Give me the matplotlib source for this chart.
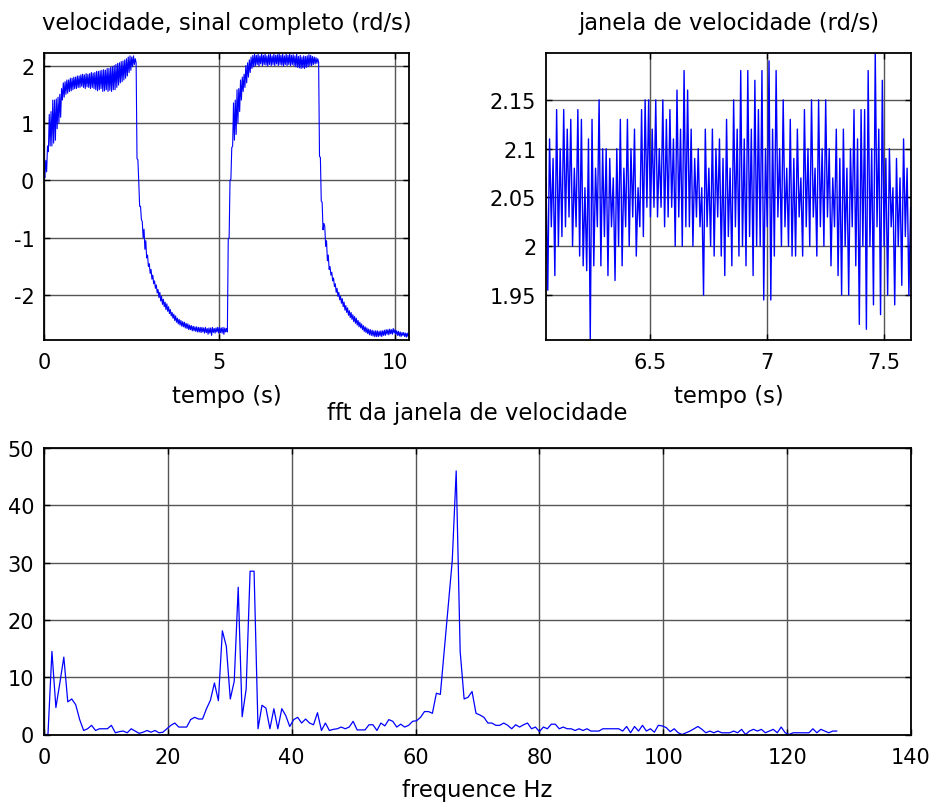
import numpy as np
import matplotlib
matplotlib.use("Agg")
import matplotlib.pyplot as plt

# ---------------- data ----------------
# full speed signal (rd/s): upper and lower swing of the noisy trace,
# upper at t = 0, 0.05, 0.10, ... ; lower half a step (0.025 s) later
sig_dt = 0.05
sig_upper = [
    0.10, 0.35, 0.60, 1.15, 1.20, 1.40, 1.40, 1.42, 1.45, 1.50,
    1.60, 1.70, 1.72, 1.75, 1.75, 1.78, 1.78, 1.80, 1.80, 1.82,
    1.82, 1.84, 1.85, 1.84, 1.86, 1.85, 1.86, 1.88, 1.87, 1.88,
    1.90, 1.90, 1.91, 1.92, 1.93, 1.92, 1.95, 1.95, 1.97, 1.98,
    2.00, 2.02, 2.04, 2.05, 2.07, 2.08, 2.10, 2.12, 2.15, 2.17,
    2.15, 2.17, 2.12, 0.38, -0.02, -0.45, -0.72, -0.85, -1.05, -1.30,
    -1.45, -1.55, -1.65, -1.75, -1.82, -1.90, -1.95, -2.02, -2.07, -2.12,
    -2.15, -2.20, -2.25, -2.30, -2.33, -2.36, -2.40, -2.42, -2.44, -2.46,
    -2.47, -2.49, -2.50, -2.52, -2.53, -2.54, -2.55, -2.55, -2.56, -2.56,
    -2.56, -2.57, -2.56, -2.58, -2.57, -2.57, -2.56, -2.58, -2.57, -2.56,
    -2.56, -2.57, -2.56, -2.57, -2.58, -1.01, 0.00, 0.57, 1.35, 1.40,
    1.58, 1.60, 1.75, 1.80, 1.85, 2.00, 2.05, 2.10, 2.15, 2.18,
    2.20, 2.18, 2.20, 2.17, 2.21, 2.18, 2.20, 2.17, 2.19, 2.20,
    2.17, 2.20, 2.18, 2.19, 2.21, 2.18, 2.20, 2.17, 2.20, 2.18,
    2.21, 2.18, 2.19, 2.17, 2.20, 2.16, 2.18, 2.15, 2.17, 2.16,
    2.17, 2.19, 2.18, 2.16, 2.15, 2.14, 2.12, 0.42, -0.36, -0.86,
    -0.80, -1.05, -1.30, -1.50, -1.60, -1.70, -1.80, -1.88, -1.95, -2.02,
    -2.06, -2.12, -2.18, -2.22, -2.27, -2.30, -2.34, -2.37, -2.40, -2.44,
    -2.47, -2.50, -2.53, -2.55, -2.57, -2.59, -2.60, -2.61, -2.62, -2.62,
    -2.62, -2.63, -2.62, -2.62, -2.61, -2.60, -2.60, -2.59, -2.60, -2.58,
    -2.60, -2.62, -2.63, -2.64, -2.65, -2.65, -2.66, -2.66, -2.67,
]
sig_lower = [
    0.05, 0.15, 0.50, 0.60, 0.60, 0.65, 0.70, 0.90, 1.00, 1.10,
    1.40, 1.45, 1.50, 1.52, 1.55, 1.56, 1.58, 1.60, 1.60, 1.62,
    1.62, 1.64, 1.62, 1.60, 1.63, 1.62, 1.60, 1.62, 1.60, 1.58,
    1.56, 1.58, 1.60, 1.55, 1.56, 1.58, 1.55, 1.57, 1.55, 1.58,
    1.58, 1.62, 1.66, 1.70, 1.72, 1.75, 1.78, 1.82, 1.88, 1.92,
    1.98, 2.02, 2.05, 0.36, -0.45, -0.68, -1.00, -1.20, -1.35, -1.50,
    -1.62, -1.72, -1.80, -1.88, -1.96, -2.04, -2.10, -2.16, -2.20, -2.25,
    -2.28, -2.32, -2.36, -2.40, -2.44, -2.47, -2.50, -2.52, -2.54, -2.55,
    -2.57, -2.58, -2.60, -2.60, -2.62, -2.62, -2.63, -2.64, -2.64, -2.65,
    -2.64, -2.66, -2.65, -2.68, -2.66, -2.70, -2.65, -2.66, -2.64, -2.66,
    -2.65, -2.66, -2.68, -2.64, -2.64, -1.00, 0.02, 0.60, 0.70, 0.80,
    1.00, 1.20, 1.40, 1.55, 1.62, 1.70, 1.80, 1.88, 1.95, 1.98,
    2.00, 2.02, 1.99, 2.03, 2.00, 2.02, 2.01, 1.99, 2.02, 2.00,
    2.02, 2.00, 2.03, 2.00, 2.02, 2.01, 1.99, 2.02, 2.00, 2.02,
    2.00, 2.02, 2.00, 1.98, 1.97, 1.96, 1.95, 1.96, 1.95, 1.97,
    1.98, 2.00, 2.00, 2.02, 2.03, 2.04, 2.06, 0.40, -0.38, -0.75,
    -1.15, -1.40, -1.55, -1.65, -1.75, -1.85, -1.95, -2.02, -2.08, -2.14,
    -2.20, -2.26, -2.30, -2.35, -2.39, -2.42, -2.46, -2.49, -2.52, -2.55,
    -2.57, -2.60, -2.63, -2.65, -2.67, -2.69, -2.70, -2.71, -2.72, -2.72,
    -2.72, -2.71, -2.72, -2.70, -2.70, -2.68, -2.69, -2.67, -2.68, -2.66,
    -2.68, -2.70, -2.71, -2.72, -2.70, -2.72, -2.73, -2.72, -2.74,
]

# speed window (rd/s): successive peaks and troughs, half-cycle 0.00758 s from t = 6.053
win_t0 = 6.053
win_half = 0.00758
win_peaks = [
    2.07, 2.11, 2.09, 2.14, 2.10, 2.14, 2.12, 2.13, 2.08, 2.14,
    2.13, 2.06, 2.11, 2.13, 2.08, 2.15, 2.10, 2.10, 2.09, 2.07,
    2.10, 2.13, 2.08, 2.13, 2.10, 2.12, 2.06, 2.14, 2.15, 2.15,
    2.12, 2.15, 2.10, 2.15, 2.13, 2.14, 2.11, 2.16, 2.12, 2.18,
    2.16, 2.12, 2.09, 2.10, 2.06, 2.12, 2.08, 2.12, 2.10, 2.11,
    2.09, 2.13, 2.08, 2.15, 2.12, 2.18, 2.11, 2.18, 2.12, 2.17,
    2.14, 2.18, 2.10, 2.19, 2.12, 2.18, 2.10, 2.15, 2.08, 2.13,
    2.09, 2.12, 2.07, 2.14, 2.10, 2.15, 2.08, 2.15, 2.10, 2.15,
    2.10, 2.07, 2.12, 2.09, 2.12, 2.08, 2.10, 2.14, 2.11, 2.14,
    2.14, 2.18, 2.10, 2.20, 2.12, 2.17, 2.09, 2.10, 2.06, 2.09,
    2.07, 2.11, 2.08, 2.04,
]
win_troughs = [
    1.955, 2.02, 1.97, 2.00, 2.01, 2.02, 2.03, 2.00, 2.02, 1.99,
    1.98, 1.975, 1.905, 1.98, 2.02, 1.98, 2.01, 1.97, 2.02, 1.965,
    2.00, 1.98, 2.02, 2.00, 2.03, 1.99, 2.02, 2.01, 2.04, 2.03,
    2.04, 2.03, 2.04, 2.02, 2.03, 2.04, 2.00, 2.03, 2.00, 2.02,
    2.02, 2.00, 2.03, 2.02, 1.95, 2.02, 2.00, 1.99, 2.03, 1.99,
    1.97, 2.01, 1.98, 2.02, 1.99, 2.00, 1.98, 2.01, 1.97, 2.00,
    2.00, 1.945, 2.02, 1.945, 1.99, 2.03, 2.00, 2.02, 2.00, 1.99,
    1.99, 2.03, 1.99, 2.02, 2.00, 2.03, 1.99, 2.02, 2.00, 2.03,
    1.98, 2.02, 1.97, 1.95, 2.00, 1.95, 2.02, 1.98, 1.92, 2.00,
    1.915, 2.00, 1.94, 2.02, 1.93, 2.00, 1.95, 2.02, 1.94, 2.00,
    1.96, 2.01, 1.95, 1.99,
]

# FFT magnitude of the window, bins 0 .. 128 Hz
fft_fmax = 128.0
fft_mag = [
    0.0, 0.0, 14.5, 4.7, 9.0, 13.5, 5.7, 6.2, 5.2, 2.6,
    0.7, 1.0, 1.6, 0.7, 1.0, 1.0, 1.0, 1.6, 0.3, 0.5,
    0.6, 0.3, 1.0, 0.6, 0.2, 0.4, 0.7, 0.4, 0.7, 0.3,
    0.4, 1.0, 1.6, 2.0, 1.3, 1.3, 1.3, 2.6, 3.0, 2.7,
    2.7, 4.5, 6.0, 9.0, 5.9, 18.1, 15.4, 6.2, 9.3, 25.7,
    3.1, 7.9, 28.5, 28.5, 1.0, 5.1, 4.6, 1.0, 4.5, 1.0,
    4.5, 3.3, 1.4, 2.6, 3.0, 2.0, 2.7, 2.0, 1.7, 3.8,
    0.7, 2.0, 0.7, 0.9, 1.0, 1.3, 1.0, 1.3, 2.3, 0.8,
    0.8, 0.8, 1.7, 1.7, 0.7, 2.0, 1.5, 2.6, 2.3, 1.3,
    1.8, 1.3, 1.6, 2.3, 2.4, 3.0, 4.0, 4.0, 3.7, 7.2,
    7.0, 14.8, 22.5, 30.3, 46.0, 14.5, 6.2, 6.5, 7.5, 3.7,
    3.4, 3.0, 2.0, 2.0, 1.6, 1.6, 2.0, 1.6, 1.0, 1.7,
    1.3, 1.7, 2.0, 1.0, 1.3, 0.5, 1.3, 1.0, 1.8, 1.8,
    1.0, 1.3, 1.0, 1.0, 0.7, 1.0, 0.7, 1.0, 0.6, 0.6,
    0.6, 1.0, 1.0, 1.0, 1.0, 1.0, 0.6, 1.4, 0.3, 1.4,
    0.6, 1.6, 0.6, 1.0, 0.4, 1.6, 1.5, 1.2, 0.5, 1.0,
    0.3, 0.0, 0.3, 0.6, 1.0, 1.4, 0.9, 0.3, 0.6, 0.3,
    0.6, 0.3, 0.3, 0.3, 0.6, 0.3, 0.9, 0.0, 0.6, 0.9,
    0.6, 0.9, 0.3, 0.6, 0.9, 0.3, 1.3, 0.3, 0.0, 0.3,
    0.3, 0.3, 0.3, 0.3, 1.0, 0.3, 0.9, 0.6, 0.3, 0.6,
    0.6,
]

# ---------------- style ----------------
plt.rcParams['font.family'] = ['DejaVu Sans']
plt.rcParams['font.size'] = 15
plt.rcParams['axes.unicode_minus'] = False
BLUE = '#0000ff'
GRID = '#555555'
TICK_FS = 15
TXT_FS = 16.3

fig = plt.figure(figsize=(9.35, 8.04), dpi=100)
W, H = 935.0, 804.0

def axes_px(left, top, right, bottom):
    return fig.add_axes([left / W, 1 - bottom / H, (right - left) / W, (bottom - top) / H])

def style(ax):
    ax.grid(True, color=GRID, linewidth=1.0, linestyle='-')
    ax.set_axisbelow(True)
    for s in ax.spines.values():
        s.set_linewidth(1.3)
        s.set_color('black')
    ax.tick_params(direction='in', length=4, width=1, top=True, right=True,
                   labelsize=TICK_FS, colors='black')
    ax.tick_params(axis='x', pad=9)
    ax.tick_params(axis='y', pad=7)

# top left: full signal
ax1 = axes_px(44, 54, 409, 341)
sig_vals = []
for u, l in zip(sig_upper, sig_lower):
    sig_vals.extend([u, l])
t_sig = np.arange(len(sig_vals)) * (sig_dt / 2)
ax1.plot(t_sig, sig_vals, color=BLUE, linewidth=0.8)
ax1.set_xlim(0, 10.4)
ax1.set_ylim(-2.78, 2.22)
ax1.set_xticks([0, 5, 10])
ax1.set_yticks([-2, -1, 0, 1, 2])
style(ax1)
ax1.set_title('velocidade, sinal completo (rd/s)', fontsize=TXT_FS, pad=17)
ax1.set_xlabel('tempo (s)', fontsize=TXT_FS, labelpad=8)

# top right: window
ax2 = axes_px(546, 54, 911, 341)
win_vals = []
for p, q in zip(win_peaks, win_troughs):
    win_vals.extend([p, q])
t_win = win_t0 + np.arange(len(win_vals)) * win_half
ax2.plot(t_win, win_vals, color=BLUE, linewidth=1.0)
ax2.set_xlim(6.053, 7.616)
ax2.set_ylim(1.904, 2.198)
ax2.set_xticks([6.5, 7, 7.5])
ax2.set_xticklabels(['6.5', '7', '7.5'])
ax2.set_yticks([1.95, 2.0, 2.05, 2.1, 2.15])
ax2.set_yticklabels(['1.95', '2', '2.05', '2.1', '2.15'])
style(ax2)
ax2.set_title('janela de velocidade (rd/s)', fontsize=TXT_FS, pad=17)
ax2.set_xlabel('tempo (s)', fontsize=TXT_FS, labelpad=8)

# bottom: fft
ax3 = axes_px(44, 449, 911, 735.5)
f = np.linspace(0, fft_fmax, len(fft_mag))
ax3.plot(f, fft_mag, color=BLUE, linewidth=0.9)
ax3.set_xlim(0, 140)
ax3.set_ylim(0, 50)
ax3.set_xticks(np.arange(0, 141, 20))
ax3.set_yticks(np.arange(0, 51, 10))
style(ax3)
ax3.set_title('fft da janela de velocidade', fontsize=TXT_FS, pad=21)
ax3.set_xlabel('frequence Hz', fontsize=TXT_FS, labelpad=8)

fig.savefig('out.png', dpi=100)
